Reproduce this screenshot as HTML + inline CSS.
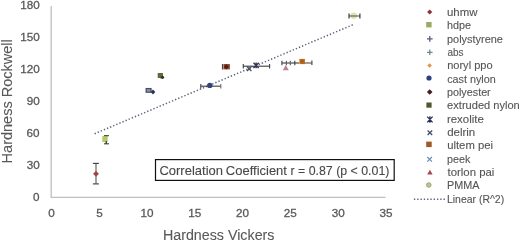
<!DOCTYPE html>
<html><head><meta charset="utf-8">
<style>
html,body{margin:0;padding:0;background:#fff;width:520px;height:242px;overflow:hidden}
svg{display:block;filter:blur(0.35px)}
text{font-family:"Liberation Sans",sans-serif;fill:#595959;stroke:#595959;stroke-width:0.1px}
</style></head>
<body>
<svg width="520" height="242" viewBox="0 0 520 242">
<rect width="520" height="242" fill="#fff"/>
<!-- axes -->
<line x1="51.2" y1="6" x2="51.2" y2="197.3" stroke="#bfbfbf" stroke-width="1.3"/>
<line x1="50.6" y1="197.3" x2="385.5" y2="197.3" stroke="#bfbfbf" stroke-width="1.3"/>

<!-- trendline -->
<line x1="94.57" y1="133.75" x2="353" y2="24.7" stroke="#5c6579" stroke-width="1.5" stroke-dasharray="1.35 2.01"/>

<!-- error bars -->
<g stroke="#454545" stroke-width="1.15" fill="none">
<!-- uhmw -->
<line x1="96" y1="163.4" x2="96" y2="183.9" stroke="#606060"/>
<line x1="92.9" y1="163.4" x2="98.9" y2="163.4"/>
<line x1="92.9" y1="183.9" x2="98.9" y2="183.9"/>
<!-- hdpe -->
<line x1="106.3" y1="135.6" x2="106.3" y2="143.8"/>
<line x1="104" y1="135.6" x2="108.6" y2="135.6"/>
<line x1="104" y1="143.8" x2="109" y2="143.8"/>
<!-- extruded nylon -->
<line x1="161" y1="73" x2="161" y2="78.5"/>
<!-- cast nylon -->
<line x1="200.8" y1="86.2" x2="220.8" y2="86.2"/>
<line x1="200.8" y1="83.9" x2="200.8" y2="88.6"/>
<line x1="220.8" y1="83.9" x2="220.8" y2="88.6" stroke="#707060"/>
<!-- polyester/noryl cap -->
<line x1="222.5" y1="64" x2="222.5" y2="69.5"/>
<!-- rexolite / delrin -->
<line x1="243.3" y1="66.2" x2="269.6" y2="66.2"/>
<line x1="243.3" y1="64" x2="243.3" y2="68.5"/>
<line x1="269.6" y1="64" x2="269.6" y2="68.5"/>
<!-- torlon/peek/ultem -->
<line x1="281.9" y1="63" x2="299" y2="63"/><line x1="304" y1="63" x2="311.9" y2="63" stroke="#5e5850" stroke-width="1.15"/>
<line x1="281.9" y1="60.8" x2="281.9" y2="65.3"/>
<line x1="294.8" y1="60.8" x2="294.8" y2="65.3"/>
<line x1="286.4" y1="60.8" x2="286.4" y2="65.3" stroke="#5a6272"/>
<line x1="290.3" y1="60.8" x2="290.3" y2="65.3" stroke="#5a6272"/>
<line x1="311.9" y1="60.5" x2="311.9" y2="65"/>
<!-- polystyrene cluster -->
<rect x="146.2" y="88.6" width="4.8" height="3.6" fill="#9098a8" stroke="#4a5068" stroke-width="1.3"/>
</g>

<!-- markers -->
<!-- uhmw -->
<path d="M96 170.9 L98.9 173.8 L96 176.7 L93.1 173.8Z" fill="#a0444a"/>
<!-- hdpe -->
<rect x="102.3" y="136" width="5.4" height="6" fill="#b5c96a"/>
<line x1="104" y1="135.6" x2="108.6" y2="135.6" stroke="#505a30" stroke-width="1.2"/>
<line x1="106.3" y1="141" x2="106.3" y2="143.8" stroke="#404040" stroke-width="1.2"/>
<!-- extruded nylon -->
<rect x="157.7" y="73" width="5.3" height="5" fill="#5f6a36"/>
<circle cx="162.5" cy="77.3" r="1.6" fill="#2e3520"/>
<!-- polystyrene cluster blob -->
<path d="M153 89.4 L155.3 92 L153 94.6 L150.7 92Z" fill="#2a3258"/>
<!-- cast nylon -->
<circle cx="209.8" cy="85.4" r="2.7" fill="#34427a"/>
<!-- polyester/noryl brown -->
<rect x="223.4" y="64" width="6.5" height="5.4" fill="#8e4e34"/>
<path d="M226.3 64.2L229 66.8L226.3 69.4L223.6 66.8Z" fill="#5a1a10"/>
<!-- rexolite -->
<path d="M253.5 62.7L258.7 68.1M258.7 62.7L253.5 68.1M256.1 62.5V68.3" stroke="#2a2f55" stroke-width="1.3"/>
<!-- delrin -->
<path d="M247 66.5l4.4 4.4M251.4 66.5l-4.4 4.4" stroke="#42525a" stroke-width="1.4"/>
<!-- ultem -->
<rect x="299.4" y="58.9" width="5.5" height="5.2" fill="#c06a1c"/>
<rect x="300.8" y="60.2" width="2.7" height="2.4" fill="#a85a14"/>
<!-- torlon -->
<path d="M285.8 64.9L288.8 70.2L282.8 70.2Z" fill="#c08090"/>
<!-- PMMA -->
<circle cx="353.7" cy="15.8" r="3.3" fill="#dde5ae"/>
<g stroke="#404040" stroke-width="1.25">
<line x1="349" y1="16" x2="359.9" y2="16" stroke-opacity="0.75"/>
<line x1="349" y1="13.5" x2="349" y2="18.6"/>
<line x1="359.9" y1="13.5" x2="359.9" y2="18.6"/>
</g>

<!-- correlation box -->
<rect x="155.5" y="159.6" width="238.7" height="20.8" fill="#fff" stroke="#111" stroke-width="1.2"/>

<!-- legend markers -->
<path d="M429.7 9.4L432.3 12L429.7 14.6L427.1 12Z" fill="#8e3438"/>
<rect x="426.2" y="22" width="5.4" height="5.4" fill="#98aa66"/>
<path d="M427 38.9h5.6M429.8 36.1v5.6" stroke="#585a82" stroke-width="1.3"/>
<path d="M427 52.3h5.6M429.8 49.5v5.6" stroke="#6a8a90" stroke-width="1.3"/>
<path d="M429.6 63.2L431.9 65.5L429.6 67.8L427.3 65.5Z" fill="#e0954a"/>
<circle cx="429" cy="78" r="2.6" fill="#30407a"/>
<path d="M429.7 89.2L432.5 92L429.7 94.8L426.9 92Z" fill="#4a1c1e"/>
<rect x="426.4" y="102.5" width="5.2" height="5.2" fill="#4c5a2c"/>
<path d="M427.2 116.6L432.6 122.4M432.6 116.6L427.2 122.4M429.9 116.3V122.7" stroke="#2a2f55" stroke-width="1.3"/>
<path d="M427.6 130.5l4.6 4.5M432.2 130.5l-4.6 4.5" stroke="#3a4f68" stroke-width="1.25"/>
<rect x="426.2" y="141.6" width="5.5" height="5.5" fill="#9e5a24"/>
<path d="M427.3 157l4.6 4.6M431.9 157l-4.6 4.6" stroke="#6f8fc0" stroke-width="1.3"/>
<path d="M429.9 169.8L432.6 174.6L427.2 174.6Z" fill="#a84458"/>
<circle cx="428.8" cy="185" r="2.3" fill="#bac78f" stroke="#9aaa76" stroke-width="1"/>
<line x1="413.9" y1="199.2" x2="445" y2="199.2" stroke="#5c6579" stroke-width="1.5" stroke-dasharray="1.35 1.94"/>

<text x="39.68" y="9.30" font-size="11.7" text-anchor="end" style="stroke-width:0.3px">180</text>
<text x="39.68" y="41.17" font-size="11.7" text-anchor="end" style="stroke-width:0.3px">150</text>
<text x="39.68" y="73.04" font-size="11.7" text-anchor="end" style="stroke-width:0.3px">120</text>
<text x="39.82" y="104.91" font-size="11.7" text-anchor="end" style="stroke-width:0.3px">90</text>
<text x="39.64" y="136.78" font-size="11.7" text-anchor="end" style="stroke-width:0.3px">60</text>
<text x="39.74" y="168.65" font-size="11.7" text-anchor="end" style="stroke-width:0.3px">30</text>
<text x="39.62" y="200.52" font-size="11.7" text-anchor="end" style="stroke-width:0.3px">0</text>
<text x="51.52" y="217.20" font-size="11.7" text-anchor="middle" style="stroke-width:0.3px">0</text>
<text x="99.48" y="217.20" font-size="11.7" text-anchor="middle" style="stroke-width:0.3px">5</text>
<text x="146.99" y="217.20" font-size="11.7" text-anchor="middle" style="stroke-width:0.3px">10</text>
<text x="194.76" y="217.20" font-size="11.7" text-anchor="middle" style="stroke-width:0.3px">15</text>
<text x="242.62" y="217.20" font-size="11.7" text-anchor="middle" style="stroke-width:0.3px">20</text>
<text x="290.30" y="217.20" font-size="11.7" text-anchor="middle" style="stroke-width:0.3px">25</text>
<text x="338.19" y="217.20" font-size="11.7" text-anchor="middle" style="stroke-width:0.3px">30</text>
<text x="385.93" y="217.20" font-size="11.7" text-anchor="middle" style="stroke-width:0.3px">35</text>
<text x="162.96" y="239.90" font-size="13.8" textLength="111.50" lengthAdjust="spacingAndGlyphs">Hardness Vickers</text>
<text transform="translate(12.40,163.39) rotate(-90)" font-size="13.8" textLength="124.07" lengthAdjust="spacingAndGlyphs">Hardness Rockwell</text>
<text x="159.42" y="174.90" font-size="11.9" textLength="63.59" lengthAdjust="spacingAndGlyphs" style="fill:#484848;stroke:#484848">Correlation</text>
<text x="225.87" y="174.90" font-size="11.9" textLength="61.06" lengthAdjust="spacingAndGlyphs" style="fill:#484848;stroke:#484848">Coefficient</text>
<text x="290.47" y="174.90" font-size="11.9" textLength="98.95" lengthAdjust="spacingAndGlyphs" style="fill:#484848;stroke:#484848">r = 0.87 (p &lt; 0.01)</text>
<text x="446.94" y="16.10" font-size="10.2" textLength="30.56" lengthAdjust="spacingAndGlyphs" style="fill:#555555;stroke:#555555">uhmw</text>
<text x="447.00" y="29.42" font-size="10.2" textLength="24.02" lengthAdjust="spacingAndGlyphs" style="fill:#555555;stroke:#555555">hdpe</text>
<text x="447.02" y="42.74" font-size="10.2" textLength="55.89" lengthAdjust="spacingAndGlyphs" style="fill:#555555;stroke:#555555">polystyrene</text>
<text x="447.47" y="56.06" font-size="10.2" textLength="16.05" lengthAdjust="spacingAndGlyphs" style="fill:#555555;stroke:#555555">abs</text>
<text x="447.17" y="69.38" font-size="10.2" textLength="45.45" lengthAdjust="spacingAndGlyphs" style="fill:#555555;stroke:#555555">noryl ppo</text>
<text x="447.20" y="82.70" font-size="10.2" textLength="48.57" lengthAdjust="spacingAndGlyphs" style="fill:#555555;stroke:#555555">cast nylon</text>
<text x="446.99" y="96.02" font-size="10.2" textLength="43.73" lengthAdjust="spacingAndGlyphs" style="fill:#555555;stroke:#555555">polyester</text>
<text x="447.13" y="109.34" font-size="10.2" textLength="72.62" lengthAdjust="spacingAndGlyphs" style="fill:#555555;stroke:#555555">extruded nylon</text>
<text x="446.91" y="122.66" font-size="10.2" textLength="36.91" lengthAdjust="spacingAndGlyphs" style="fill:#555555;stroke:#555555">rexolite</text>
<text x="447.15" y="135.98" font-size="10.2" textLength="28.13" lengthAdjust="spacingAndGlyphs" style="fill:#555555;stroke:#555555">delrin</text>
<text x="447.20" y="149.30" font-size="10.2" textLength="45.86" lengthAdjust="spacingAndGlyphs" style="fill:#555555;stroke:#555555">ultem pei</text>
<text x="447.05" y="162.62" font-size="10.2" textLength="23.32" lengthAdjust="spacingAndGlyphs" style="fill:#555555;stroke:#555555">peek</text>
<text x="447.54" y="175.94" font-size="10.2" textLength="46.87" lengthAdjust="spacingAndGlyphs" style="fill:#555555;stroke:#555555">torlon pai</text>
<text x="446.97" y="189.26" font-size="10.2" textLength="32.42" lengthAdjust="spacingAndGlyphs" style="fill:#555555;stroke:#555555">PMMA</text>
<text x="446.94" y="202.58" font-size="10.2" textLength="57.24" lengthAdjust="spacingAndGlyphs" style="fill:#555555;stroke:#555555">Linear (R^2)</text>
</svg>
</body></html>
